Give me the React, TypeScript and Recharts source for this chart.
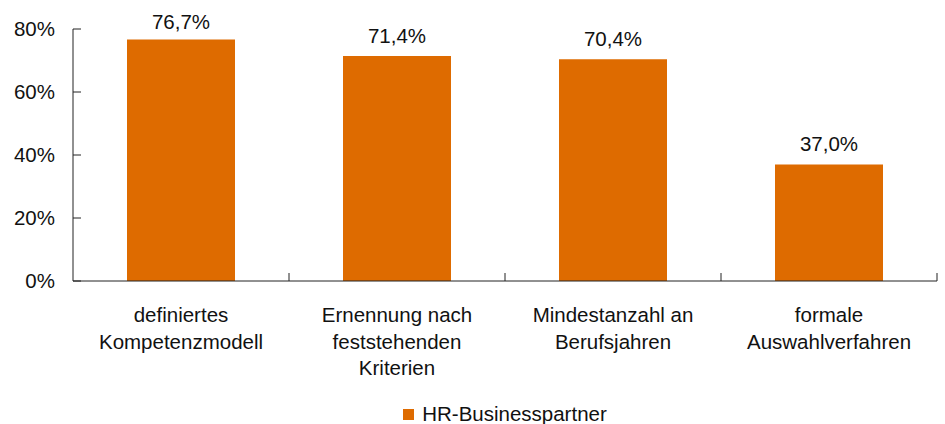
import React from "react";
import { BarChart, Bar, XAxis, YAxis, Legend, LabelList } from "recharts";

const categories = [
  "definiertes\nKompetenzmodell",
  "Ernennung nach\nfeststehenden\nKriterien",
  "Mindestanzahl an\nBerufsjahren",
  "formale\nAuswahlverfahren",
];
const values = [76.7, 71.4, 70.4, 37.0];
const yTicks = [0, 20, 40, 60, 80];
const seriesName = "HR-Businesspartner";

const data = categories.map((c, i) => ({ category: c, value: values[i] }));

const FONT = "'Liberation Sans', Arial, sans-serif";
const FS = 20.5;
const BAR = "#DE6B00";
const AXIS = "#222";
const TXT = "#111";

const YTick = (props: any) => {
  const { x, y, payload } = props;
  const axisX = x + 18;
  return (
    <g>
      <line x1={axisX} x2={axisX + 8} y1={y} y2={y} stroke={AXIS} strokeWidth={1} />
      <text x={x} y={y} dy="0.355em" textAnchor="end" fontFamily={FONT} fontSize={FS} fill={TXT}>
        {payload.value}%
      </text>
    </g>
  );
};

const XTick = (props: any) => {
  const { x, y, payload, width } = props;
  const band = width / categories.length;
  const lines = String(payload.value).split("\n");
  return (
    <g>
      <line x1={x + band / 2} x2={x + band / 2} y1={y} y2={y - 8} stroke={AXIS} strokeWidth={1} />
      <text x={x} y={y + 41} textAnchor="middle" fontFamily={FONT} fontSize={FS} fill={TXT}>
        {lines.map((l, i) => (
          <tspan key={i} x={x} dy={i === 0 ? 0 : 26.5}>
            {l}
          </tspan>
        ))}
      </text>
    </g>
  );
};

const ValueLabel = (props: any) => {
  const { x, y, width, value } = props;
  const baseline = Math.max(y - 13, 29);
  return (
    <text x={x + width / 2} y={baseline} textAnchor="middle" fontFamily={FONT} fontSize={FS} fill={TXT}>
      {Number(value).toFixed(1).replace(".", ",") + "%"}
    </text>
  );
};

const LegendContent = () => (
  <div
    style={{
      display: "flex",
      justifyContent: "center",
      alignItems: "center",
      height: 24,
      fontFamily: FONT,
      fontSize: FS,
      color: TXT,
      lineHeight: "24px",
    }}
  >
    <span style={{ display: "inline-block", width: 11, height: 11, background: BAR, marginRight: 8 }} />
    <span>{seriesName}</span>
  </div>
);

export default function App() {
  return (
    <div style={{ position: "absolute", left: 0, top: 0, background: "#fff" }}>
      <BarChart
        width={945}
        height={424}
        data={data}
        margin={{ top: 29, right: 8, left: 0, bottom: 0 }}
        barCategoryGap="25%"
      >
        <YAxis
          width={73}
          domain={[0, 80]}
          ticks={yTicks}
          interval={0}
          tickLine={false}
          tickSize={0}
          tickMargin={18}
          axisLine={{ stroke: AXIS, strokeWidth: 1 }}
          tick={<YTick />}
        />
        <XAxis
          dataKey="category"
          height={143}
          interval={0}
          tickLine={false}
          tickSize={0}
          tickMargin={0}
          axisLine={{ stroke: AXIS, strokeWidth: 1 }}
          tick={<XTick />}
        />
        <Legend
          verticalAlign="middle"
          align="center"
          content={<LegendContent />}
          wrapperStyle={{ top: 402, left: 73, width: 864, height: 24 }}
        />
        <Bar dataKey="value" name={seriesName} fill={BAR} isAnimationActive={false}>
          <LabelList dataKey="value" content={<ValueLabel />} />
        </Bar>
      </BarChart>
    </div>
  );
}
